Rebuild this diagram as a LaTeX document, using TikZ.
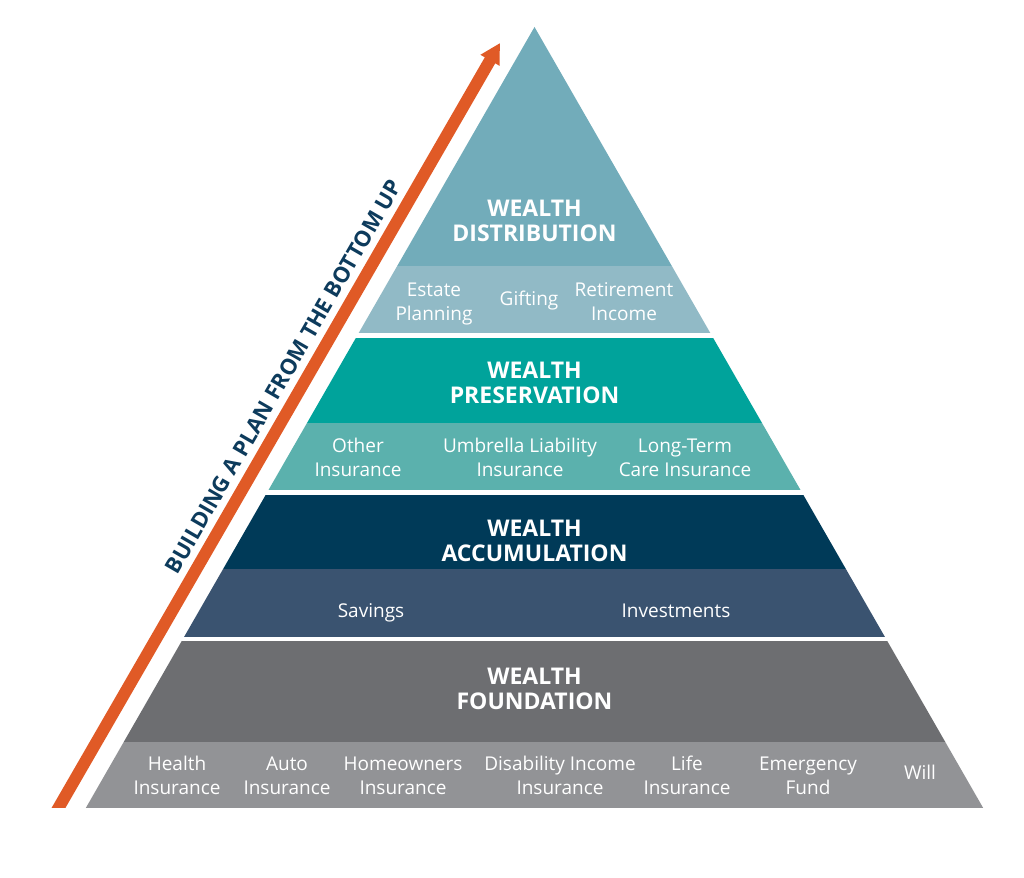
\documentclass[tikz,border=0pt]{standalone}
\usepackage{fontspec}
\setmainfont{Open Sans}
\usetikzlibrary{arrows.meta}
\definecolor{distTop}{RGB}{114,172,186}
\definecolor{distSub}{RGB}{145,186,198}
\definecolor{presTop}{RGB}{0,163,155}
\definecolor{presSub}{RGB}{91,177,173}
\definecolor{accTop}{RGB}{0,58,88}
\definecolor{accSub}{RGB}{58,83,112}
\definecolor{fndTop}{RGB}{109,110,113}
\definecolor{fndSub}{RGB}{146,147,150}
\definecolor{arrowOrange}{RGB}{224,90,38}
\definecolor{navyText}{RGB}{13,59,92}
\begin{document}
\begin{tikzpicture}[x=1pt,y=-1pt,
  title/.style={text=white,align=center,inner sep=0pt,font=\fontsize{23}{25}\selectfont\bfseries},
  sublabel/.style={text=white,align=center,inner sep=0pt,font=\fontsize{19}{23.5}\selectfont}]
\useasboundingbox (0,0) rectangle (1024,877);
\fill[white] (0,0) rectangle (1024,877);
% pyramid bands
\coordinate (apex) at (534.5,27);
\coordinate (baseR) at (983.2,808);
\coordinate (baseL) at (85.8,808);
\begin{scope}
\clip (apex) -- (baseR) -- (baseL) -- cycle;
\fill[distTop] (0,0) rectangle (1024,266);
\fill[distSub] (0,266) rectangle (1024,333);
\fill[presTop] (0,338) rectangle (1024,423);
\fill[presSub] (0,423) rectangle (1024,490);
\fill[accTop] (0,495) rectangle (1024,569);
\fill[accSub] (0,569) rectangle (1024,637);
\fill[fndTop] (0,641) rectangle (1024,742);
\fill[fndSub] (0,742) rectangle (1024,808);
\end{scope}
% arrow
\coordinate (arrowtail) at (54.4,815);
\coordinate (arrowtip) at (500,43);
\begin{scope}
\clip (0,0) rectangle (1024,807);
\draw[arrowOrange,line width=12pt,-{Triangle[width=20.6pt,length=20pt]}] (arrowtail) -- (arrowtip);
\end{scope}
\node[text=navyText,rotate=60,inner sep=0pt,font=\fontsize{22}{24}\selectfont\bfseries] (slogan) at (283.3,376.5) {BUILDING A PLAN FROM THE BOTTOM UP};
% titles
\node[title] (tdist) at (534.5,221) {WEALTH\\DISTRIBUTION};
\node[title] (tpres) at (534.5,383) {WEALTH\\PRESERVATION};
\node[title] (tacc) at (534.5,541) {WEALTH\\ACCUMULATION};
\node[title] (tfnd) at (534.5,689) {WEALTH\\FOUNDATION};
% distribution items
\node[sublabel] (estate) at (434,304) {\strut Estate\\\strut Planning};
\node[sublabel] (gifting) at (529,301) {\strut Gifting};
\node[sublabel] (retire) at (624,304) {\strut Retirement\\\strut Income};
% preservation items
\node[sublabel] (other) at (358,460) {\strut Other\\\strut Insurance};
\node[sublabel] (umbrella) at (520,460) {\strut Umbrella Liability\\\strut Insurance};
\node[sublabel] (ltc) at (685,460) {\strut Long-Term\\\strut Care Insurance};
% accumulation items
\node[sublabel] (savings) at (371,613) {\strut Savings};
\node[sublabel] (invest) at (676,613) {\strut Investments};
% foundation items
\node[sublabel] (health) at (177,778) {\strut Health\\\strut Insurance};
\node[sublabel] (auto) at (287,778) {\strut Auto\\\strut Insurance};
\node[sublabel] (home) at (403,778) {\strut Homeowners\\\strut Insurance};
\node[sublabel] (disab) at (560,778) {\strut Disability Income\\\strut Insurance};
\node[sublabel] (life) at (687,778) {\strut Life\\\strut Insurance};
\node[sublabel] (emerg) at (808,778) {\strut Emergency\\\strut Fund};
\node[sublabel] (will) at (920,775) {\strut Will};
\end{tikzpicture}
\end{document}
